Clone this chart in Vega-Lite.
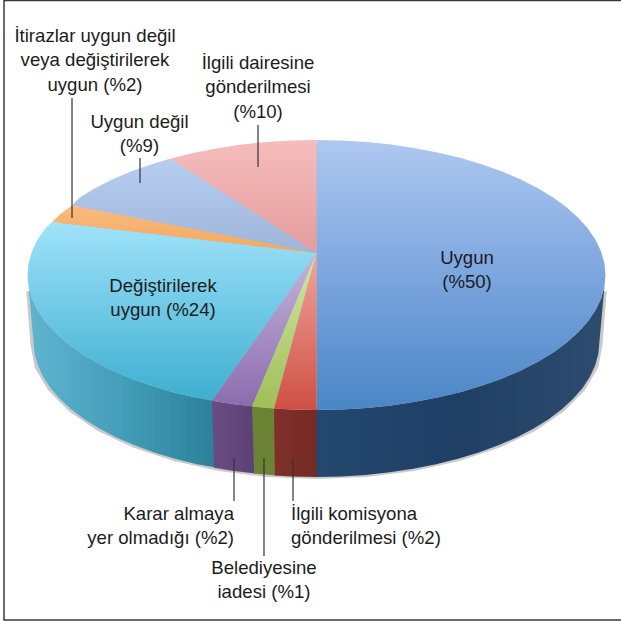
{
"$schema":"https://vega.github.io/schema/vega-lite/v6.json",
"width":621,"height":624,"padding":0,"background":"white",
"autosize":{"type":"fit","contains":"padding"},
"config":{"view":{"stroke":null}},
"datasets":{
"shadow":[{"i":-1,"x":1.004,"y":-0.12},{"i":0,"x":0.99,"y":-0.512},{"i":1,"x":0.975,"y":-0.6856},{"i":2,"x":0.9284,"y":-0.854},{"i":3,"x":0.8556,"y":-1.012},{"i":4,"x":0.7568,"y":-1.1548},{"i":5,"x":0.6351,"y":-1.278},{"i":6,"x":0.494,"y":-1.378},{"i":7,"x":0.3379,"y":-1.4517},{"i":8,"x":0.1716,"y":-1.4968},{"i":9,"x":0,"y":-1.512},{"i":10,"x":-0.1716,"y":-1.4968},{"i":11,"x":-0.3379,"y":-1.4517},{"i":12,"x":-0.494,"y":-1.378},{"i":13,"x":-0.6351,"y":-1.278},{"i":14,"x":-0.7568,"y":-1.1548},{"i":15,"x":-0.8556,"y":-1.012},{"i":16,"x":-0.9284,"y":-0.854},{"i":17,"x":-0.975,"y":-0.6856},{"i":18,"x":-0.99,"y":-0.512},{"i":19,"x":-1.004,"y":-0.12}],
"base":[{"i":0,"x":0.97,"y":0},{"i":1,"x":0.937,"y":0.251},{"i":2,"x":0.84,"y":0.485},{"i":3,"x":0.686,"y":0.686},{"i":4,"x":0.485,"y":0.84},{"i":5,"x":0.251,"y":0.937},{"i":6,"x":0,"y":0.97},{"i":7,"x":-0.251,"y":0.937},{"i":8,"x":-0.485,"y":0.84},{"i":9,"x":-0.686,"y":0.686},{"i":10,"x":-0.84,"y":0.485},{"i":11,"x":-0.937,"y":0.251},{"i":12,"x":-0.97,"y":0},{"i":13,"x":-0.937,"y":-0.251},{"i":14,"x":-0.84,"y":-0.485},{"i":15,"x":-0.686,"y":-0.686},{"i":16,"x":-0.485,"y":-0.84},{"i":17,"x":-0.251,"y":-0.937},{"i":18,"x":0,"y":-0.97},{"i":19,"x":0.251,"y":-0.937},{"i":20,"x":0.485,"y":-0.84},{"i":21,"x":0.686,"y":-0.686},{"i":22,"x":0.84,"y":-0.485},{"i":23,"x":0.937,"y":-0.251}],
"wallUygun":[{"i":-1,"x":-0.012,"y":-1},{"i":0,"x":0,"y":-1},{"i":1,"x":0.0872,"y":-0.9962},{"i":2,"x":0.1736,"y":-0.9848},{"i":3,"x":0.2588,"y":-0.9659},{"i":4,"x":0.342,"y":-0.9397},{"i":5,"x":0.4226,"y":-0.9063},{"i":6,"x":0.5,"y":-0.866},{"i":7,"x":0.5736,"y":-0.8192},{"i":8,"x":0.6428,"y":-0.766},{"i":9,"x":0.7071,"y":-0.7071},{"i":10,"x":0.766,"y":-0.6428},{"i":11,"x":0.8192,"y":-0.5736},{"i":12,"x":0.866,"y":-0.5},{"i":13,"x":0.9063,"y":-0.4226},{"i":14,"x":0.9397,"y":-0.342},{"i":15,"x":0.9659,"y":-0.2588},{"i":16,"x":0.9848,"y":-0.1736},{"i":17,"x":0.9962,"y":-0.0872},{"i":18,"x":1,"y":0},{"i":19,"x":0.979,"y":-0.496},{"i":20,"x":0.9753,"y":-0.5832},{"i":21,"x":0.9641,"y":-0.6696},{"i":22,"x":0.9456,"y":-0.7548},{"i":23,"x":0.92,"y":-0.838},{"i":24,"x":0.8873,"y":-0.9186},{"i":25,"x":0.8478,"y":-0.996},{"i":26,"x":0.802,"y":-1.0696},{"i":27,"x":0.7499,"y":-1.1388},{"i":28,"x":0.6923,"y":-1.2031},{"i":29,"x":0.6293,"y":-1.262},{"i":30,"x":0.5616,"y":-1.3152},{"i":31,"x":0.4895,"y":-1.362},{"i":32,"x":0.4137,"y":-1.4023},{"i":33,"x":0.3348,"y":-1.4357},{"i":34,"x":0.2534,"y":-1.4619},{"i":35,"x":0.17,"y":-1.4808},{"i":36,"x":0.0854,"y":-1.4922},{"i":37,"x":0,"y":-1.496},{"i":38,"x":-0.012,"y":-1.496}],
"wallCyan":[{"i":0,"x":-1,"y":0},{"i":1,"x":-0.9962,"y":-0.0872},{"i":2,"x":-0.9848,"y":-0.1736},{"i":3,"x":-0.9659,"y":-0.2588},{"i":4,"x":-0.9397,"y":-0.342},{"i":5,"x":-0.9063,"y":-0.4226},{"i":6,"x":-0.866,"y":-0.5},{"i":7,"x":-0.8192,"y":-0.5736},{"i":8,"x":-0.766,"y":-0.6428},{"i":9,"x":-0.7071,"y":-0.7071},{"i":10,"x":-0.6428,"y":-0.766},{"i":11,"x":-0.5736,"y":-0.8192},{"i":12,"x":-0.5,"y":-0.866},{"i":13,"x":-0.4226,"y":-0.9063},{"i":14,"x":-0.35,"y":-0.9323},{"i":15,"x":-0.344,"y":-1.4283},{"i":16,"x":-0.4137,"y":-1.4023},{"i":17,"x":-0.4895,"y":-1.362},{"i":18,"x":-0.5616,"y":-1.3152},{"i":19,"x":-0.6293,"y":-1.262},{"i":20,"x":-0.6923,"y":-1.2031},{"i":21,"x":-0.7499,"y":-1.1388},{"i":22,"x":-0.802,"y":-1.0696},{"i":23,"x":-0.8478,"y":-0.996},{"i":24,"x":-0.8873,"y":-0.9186},{"i":25,"x":-0.92,"y":-0.838},{"i":26,"x":-0.9456,"y":-0.7548},{"i":27,"x":-0.9641,"y":-0.6696},{"i":28,"x":-0.9753,"y":-0.5832},{"i":29,"x":-0.979,"y":-0.496}],
"wallPurple":[{"i":0,"x":-0.3616,"y":-0.9323},{"i":1,"x":-0.2924,"y":-0.9563},{"i":2,"x":-0.215,"y":-0.9748},{"i":3,"x":-0.21,"y":-1.4708},{"i":4,"x":-0.2863,"y":-1.4523},{"i":5,"x":-0.3547,"y":-1.4283}],
"wallGreen":[{"i":0,"x":-0.223,"y":-0.9748},{"i":1,"x":-0.14,"y":-0.9891},{"i":2,"x":-0.137,"y":-1.4851},{"i":3,"x":-0.216,"y":-1.4708}],
"wallRed":[{"i":0,"x":-0.147,"y":-0.9891},{"i":1,"x":-0.0872,"y":-0.9962},{"i":2,"x":0,"y":-1},{"i":3,"x":0,"y":-1.496},{"i":4,"x":-0.0854,"y":-1.4922},{"i":5,"x":-0.144,"y":-1.4851}],
"topUygun":[{"i":0,"x":0,"y":1},{"i":1,"x":0.0872,"y":0.9962},{"i":2,"x":0.1736,"y":0.9848},{"i":3,"x":0.2588,"y":0.9659},{"i":4,"x":0.342,"y":0.9397},{"i":5,"x":0.4226,"y":0.9063},{"i":6,"x":0.5,"y":0.866},{"i":7,"x":0.5736,"y":0.8192},{"i":8,"x":0.6428,"y":0.766},{"i":9,"x":0.7071,"y":0.7071},{"i":10,"x":0.766,"y":0.6428},{"i":11,"x":0.8192,"y":0.5736},{"i":12,"x":0.866,"y":0.5},{"i":13,"x":0.9063,"y":0.4226},{"i":14,"x":0.9397,"y":0.342},{"i":15,"x":0.9659,"y":0.2588},{"i":16,"x":0.9848,"y":0.1736},{"i":17,"x":0.9962,"y":0.0872},{"i":18,"x":1,"y":0},{"i":19,"x":0.9962,"y":-0.0872},{"i":20,"x":0.9848,"y":-0.1736},{"i":21,"x":0.9659,"y":-0.2588},{"i":22,"x":0.9397,"y":-0.342},{"i":23,"x":0.9063,"y":-0.4226},{"i":24,"x":0.866,"y":-0.5},{"i":25,"x":0.8192,"y":-0.5736},{"i":26,"x":0.766,"y":-0.6428},{"i":27,"x":0.7071,"y":-0.7071},{"i":28,"x":0.6428,"y":-0.766},{"i":29,"x":0.5736,"y":-0.8192},{"i":30,"x":0.5,"y":-0.866},{"i":31,"x":0.4226,"y":-0.9063},{"i":32,"x":0.342,"y":-0.9397},{"i":33,"x":0.2588,"y":-0.9659},{"i":34,"x":0.1736,"y":-0.9848},{"i":35,"x":0.0872,"y":-0.9962},{"i":36,"x":0,"y":-1},{"i":37,"x":0,"y":0.163}],
"topCyan":[{"i":0,"x":-0.915,"y":0.393},{"i":1,"x":-0.9397,"y":0.342},{"i":2,"x":-0.9659,"y":0.2588},{"i":3,"x":-0.9848,"y":0.1736},{"i":4,"x":-0.9962,"y":0.0872},{"i":5,"x":-1,"y":0},{"i":6,"x":-0.9962,"y":-0.0872},{"i":7,"x":-0.9848,"y":-0.1736},{"i":8,"x":-0.9659,"y":-0.2588},{"i":9,"x":-0.9397,"y":-0.342},{"i":10,"x":-0.9063,"y":-0.4226},{"i":11,"x":-0.866,"y":-0.5},{"i":12,"x":-0.8192,"y":-0.5736},{"i":13,"x":-0.766,"y":-0.6428},{"i":14,"x":-0.7071,"y":-0.7071},{"i":15,"x":-0.6428,"y":-0.766},{"i":16,"x":-0.5736,"y":-0.8192},{"i":17,"x":-0.5,"y":-0.866},{"i":18,"x":-0.4226,"y":-0.9063},{"i":19,"x":-0.3616,"y":-0.9323},{"i":20,"x":0,"y":0.163}],
"topPink":[{"i":0,"x":0,"y":1},{"i":1,"x":-0.0872,"y":0.9962},{"i":2,"x":-0.1736,"y":0.9848},{"i":3,"x":-0.2588,"y":0.9659},{"i":4,"x":-0.342,"y":0.9397},{"i":5,"x":-0.4226,"y":0.9063},{"i":6,"x":-0.507,"y":0.862},{"i":7,"x":0,"y":0.163}],
"topBlue":[{"i":0,"x":-0.507,"y":0.862},{"i":1,"x":-0.5736,"y":0.8192},{"i":2,"x":-0.6428,"y":0.766},{"i":3,"x":-0.7071,"y":0.7071},{"i":4,"x":-0.766,"y":0.6428},{"i":5,"x":-0.8192,"y":0.5736},{"i":6,"x":-0.846,"y":0.515},{"i":7,"x":0,"y":0.163}],
"topOrange":[{"i":0,"x":-0.846,"y":0.515},{"i":1,"x":-0.882,"y":0.46},{"i":2,"x":-0.915,"y":0.393},{"i":3,"x":0,"y":0.163}],
"topPurple":[{"i":0,"x":-0.3616,"y":-0.9323},{"i":1,"x":-0.2924,"y":-0.9563},{"i":2,"x":-0.223,"y":-0.9748},{"i":3,"x":0,"y":0.163}],
"topGreen":[{"i":0,"x":-0.223,"y":-0.9748},{"i":1,"x":-0.147,"y":-0.9891},{"i":2,"x":0,"y":0.163}],
"topRed":[{"i":0,"x":-0.147,"y":-0.9891},{"i":1,"x":-0.0872,"y":-0.9962},{"i":2,"x":0,"y":-1},{"i":3,"x":0,"y":0.163}]
},
"encoding":{
"x":{"field":"x","type":"quantitative","axis":null,"scale":{"domain":[-1.09516,1.05363],"nice":false,"zero":false}},
"y":{"field":"y","type":"quantitative","axis":null,"scale":{"domain":[-2.58519,2.03704],"nice":false,"zero":false}}
},
"layer":[
{"data":{"values":[{"x":-1.0813,"x2":1.08,"y":2.0326,"y2":-2.5556}]},
 "mark":{"type":"rect","fill":"white","stroke":"#3a3a3a","strokeWidth":1.5,"clip":true},
 "encoding":{"x2":{"field":"x2"},"y2":{"field":"y2"}}},
{"encoding":{"order":{"field":"i","type":"quantitative"}},
 "layer":[
 {"data":{"name":"shadow"},"mark":{"type":"line","filled":true,"fill":"#8a8a8a","fillOpacity":0.45,"stroke":null}},
 {"data":{"name":"wallUygun"},"mark":{"type":"line","filled":true,"stroke":null,"fill":{"gradient":"linear","x1":0,"y1":0,"x2":1,"y2":0,"stops":[{"offset":0,"color":"#24486F"},{"offset":0.5,"color":"#1F3F65"},{"offset":1,"color":"#2E4C6E"}]}}},
 {"data":{"name":"wallCyan"},"mark":{"type":"line","filled":true,"stroke":null,"fill":{"gradient":"linear","x1":0,"y1":0,"x2":1,"y2":0,"stops":[{"offset":0,"color":"#5FB5D0"},{"offset":0.5,"color":"#449DB9"},{"offset":1,"color":"#2A8097"}]}}},
 {"data":{"name":"wallPurple"},"mark":{"type":"line","filled":true,"stroke":null,"fill":{"gradient":"linear","x1":0,"y1":0,"x2":1,"y2":0,"stops":[{"offset":0,"color":"#6A4C85"},{"offset":1,"color":"#5B4074"}]}}},
 {"data":{"name":"wallGreen"},"mark":{"type":"line","filled":true,"stroke":null,"fill":"#6C8234"}},
 {"data":{"name":"wallRed"},"mark":{"type":"line","filled":true,"stroke":null,"fill":{"gradient":"linear","x1":0,"y1":0,"x2":1,"y2":0,"stops":[{"offset":0,"color":"#80302A"},{"offset":1,"color":"#752B24"}]}}},
 {"data":{"name":"base"},"mark":{"type":"line","filled":true,"stroke":null,"fill":"#A9BFDD"}},
 {"data":{"name":"topUygun"},"mark":{"type":"line","filled":true,"stroke":null,"fill":{"gradient":"linear","x1":0,"y1":0,"x2":0,"y2":1,"stops":[{"offset":0,"color":"#AEC8F0"},{"offset":0.5,"color":"#7CA6DF"},{"offset":1,"color":"#4A86C5"}]}}},
 {"data":{"name":"topCyan"},"mark":{"type":"line","filled":true,"stroke":null,"fill":{"gradient":"linear","x1":0,"y1":0,"x2":0,"y2":1,"stops":[{"offset":0,"color":"#A0E2FA"},{"offset":1,"color":"#3DAFD0"}]}}},
 {"data":{"name":"topPink"},"mark":{"type":"line","filled":true,"stroke":null,"fill":{"gradient":"linear","x1":0,"y1":0,"x2":0,"y2":1,"stops":[{"offset":0,"color":"#F6BDBD"},{"offset":1,"color":"#E49C9C"}]}}},
 {"data":{"name":"topBlue"},"mark":{"type":"line","filled":true,"stroke":null,"fill":{"gradient":"linear","x1":0,"y1":0,"x2":0,"y2":1,"stops":[{"offset":0,"color":"#B7CEF2"},{"offset":1,"color":"#9DB5D9"}]}}},
 {"data":{"name":"topOrange"},"mark":{"type":"line","filled":true,"stroke":null,"fill":{"gradient":"linear","x1":0,"y1":0,"x2":0,"y2":1,"stops":[{"offset":0,"color":"#F8BB7E"},{"offset":1,"color":"#F5A75A"}]}}},
 {"data":{"name":"topPurple"},"mark":{"type":"line","filled":true,"stroke":null,"fill":{"gradient":"linear","x1":0,"y1":0,"x2":0,"y2":1,"stops":[{"offset":0,"color":"#C5B5DC"},{"offset":1,"color":"#8B6CAD"}]}}},
 {"data":{"name":"topGreen"},"mark":{"type":"line","filled":true,"stroke":null,"fill":{"gradient":"linear","x1":0,"y1":0,"x2":0,"y2":1,"stops":[{"offset":0,"color":"#D3E6A2"},{"offset":1,"color":"#9FBF57"}]}}},
 {"data":{"name":"topRed"},"mark":{"type":"line","filled":true,"stroke":null,"fill":{"gradient":"linear","x1":0,"y1":0,"x2":0,"y2":1,"stops":[{"offset":0,"color":"#F0A6A0"},{"offset":1,"color":"#CF4F42"}]}}}
 ]},
{"data":{"values":[
 {"x":-0.846,"y":1.3111,"y2":0.4222},
 {"x":-0.6107,"y":0.8667,"y2":0.6815},
 {"x":-0.2024,"y":1.1111,"y2":0.8},
 {"x":-0.2855,"y":-1.3556,"y2":-1.6741},
 {"x":-0.1817,"y":-1.3556,"y2":-2.0815},
 {"x":-0.0813,"y":-1.3556,"y2":-1.6741}]},
 "mark":{"type":"rule","stroke":"#333333","strokeWidth":1.2},
 "encoding":{"y2":{"field":"y2"}}},
{"data":{"values":[
 {"x":-0.7664,"y":1.7259,"t":"İtirazlar uygun değil\nveya değiştirilerek\nuygun (%2)"},
 {"x":-0.2024,"y":1.5259,"t":"İlgili dairesine\ngönderilmesi\n(%10)"},
 {"x":-0.6125,"y":1.0889,"t":"Uygun değil\n(%9)"},
 {"x":0.5208,"y":0.0815,"t":"Uygun\n(%50)"},
 {"x":-0.5311,"y":-0.1259,"t":"Değiştirilerek\nuygun (%24)"},
 {"x":-0.1817,"y":-2.2148,"t":"Belediyesine\niadesi (%1)"}]},
 "mark":{"type":"text","font":"Liberation Sans","fontSize":18.6,"fill":"#1c1c1c","align":"center","baseline":"alphabetic","lineBreak":"\n","lineHeight":24.3},
 "encoding":{"text":{"field":"t"}}},
{"data":{"values":[{"x":-0.2855,"y":-1.8148,"t":"Karar almaya\nyer olmadığı (%2)"}]},
 "mark":{"type":"text","font":"Liberation Sans","fontSize":18.6,"fill":"#1c1c1c","align":"right","baseline":"alphabetic","lineBreak":"\n","lineHeight":24.3},
 "encoding":{"text":{"field":"t"}}},
{"data":{"values":[{"x":-0.0882,"y":-1.8148,"t":"İlgili komisyona\ngönderilmesi (%2)"}]},
 "mark":{"type":"text","font":"Liberation Sans","fontSize":18.6,"fill":"#1c1c1c","align":"left","baseline":"alphabetic","lineBreak":"\n","lineHeight":24.3},
 "encoding":{"text":{"field":"t"}}}
]
}
